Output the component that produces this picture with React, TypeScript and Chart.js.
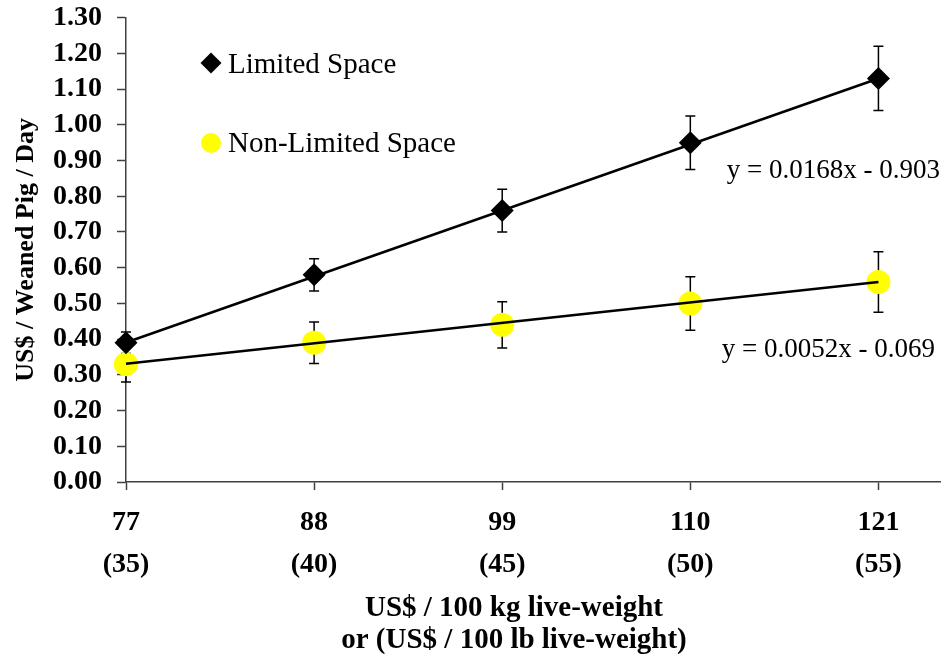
import React, { useEffect, useRef } from 'react';
import { Chart, registerables } from 'chart.js';

Chart.register(...registerables);

// ---- data ----
const priceKg = [77, 88, 99, 110, 121];
const priceLb = ['(35)', '(40)', '(45)', '(50)', '(55)'];
const limitedSpace = [0.39, 0.58, 0.76, 0.95, 1.13];
const limitedSpaceErr = [0.03, 0.045, 0.06, 0.075, 0.09];
const nonLimitedSpace = [0.33, 0.39, 0.44, 0.5, 0.56];
const nonLimitedSpaceErr = [0.05, 0.058, 0.065, 0.075, 0.085];
const limitedFit = { slope: 0.0168, intercept: -0.903 };
const nonLimitedFit = { slope: 0.0052, intercept: -0.069 };
const yTickValues = [0, 0.1, 0.2, 0.3, 0.4, 0.5, 0.6, 0.7, 0.8, 0.9, 1.0, 1.1, 1.2, 1.3];
const seriesNames = ['Limited Space', 'Non-Limited Space'];
const xTitle = ['US$ / 100 kg live-weight', 'or (US$ / 100 lb live-weight)'];
const yTitle = 'US$ / Weaned Pig / Day';

const SERIF = '"Liberation Serif", "Times New Roman", serif';
const AXIS = '#404040';
const YELLOW = '#FFFF00';

const eqText = (f: { slope: number; intercept: number }) =>
  `y = ${f.slope}x ${f.intercept < 0 ? '-' : '+'} ${Math.abs(f.intercept).toFixed(3)}`;

const fitLine = (f: { slope: number; intercept: number }) => {
  const x0 = priceKg[0];
  const x1 = priceKg[priceKg.length - 1];
  return [
    { x: x0, y: f.slope * x0 + f.intercept },
    { x: x1, y: f.slope * x1 + f.intercept },
  ];
};

const errorBarPlugin = {
  id: 'errorBars',
  beforeDatasetsDraw(chart: any) {
    const { ctx } = chart;
    const xs = chart.scales.x;
    const ys = chart.scales.y;
    ctx.save();
    ctx.strokeStyle = '#000';
    ctx.lineWidth = 1.5;
    chart.data.datasets.forEach((ds: any) => {
      const errs = ds.errors;
      if (!errs) return;
      ds.data.forEach((pt: any, j: number) => {
        const px = xs.getPixelForValue(pt.x);
        const top = ys.getPixelForValue(pt.y + errs[j]);
        const bot = ys.getPixelForValue(pt.y - errs[j]);
        ctx.beginPath();
        ctx.moveTo(px, top);
        ctx.lineTo(px, bot);
        ctx.moveTo(px - 5, top);
        ctx.lineTo(px + 5, top);
        ctx.moveTo(px - 5, bot);
        ctx.lineTo(px + 5, bot);
        ctx.stroke();
      });
    });
    ctx.restore();
  },
};

const annotationPlugin = {
  id: 'annotations',
  afterDraw(chart: any) {
    const { ctx } = chart;
    ctx.save();
    // legend
    const lx = 211;
    ctx.fillStyle = '#000';
    ctx.beginPath();
    ctx.moveTo(lx - 10.5, 63);
    ctx.lineTo(lx, 52.5);
    ctx.lineTo(lx + 10.5, 63);
    ctx.lineTo(lx, 73.5);
    ctx.closePath();
    ctx.fill();
    ctx.fillStyle = YELLOW;
    ctx.beginPath();
    ctx.arc(lx, 143, 10, 0, Math.PI * 2);
    ctx.fill();
    ctx.fillStyle = '#000';
    ctx.font = `29px ${SERIF}`;
    ctx.textAlign = 'left';
    ctx.textBaseline = 'alphabetic';
    ctx.fillText(seriesNames[0], 228, 73);
    ctx.fillText(seriesNames[1], 228, 152);

    // trend equations
    ctx.font = `27px ${SERIF}`;
    ctx.textAlign = 'right';
    ctx.fillText(eqText(limitedFit), 940, 178);
    ctx.fillText(eqText(nonLimitedFit), 935, 357);

    // x title
    ctx.font = `bold 29px ${SERIF}`;
    ctx.textAlign = 'center';
    ctx.textBaseline = 'middle';
    const cx = 514;
    ctx.fillText(xTitle[0], cx, 609);
    ctx.fillText(xTitle[1], cx, 641);
    ctx.restore();
  },
};

export default function App() {
  const ref = useRef<HTMLCanvasElement | null>(null);

  useEffect(() => {
    if (!ref.current) return;
    const chart = new Chart(ref.current, {
      type: 'line',
      data: {
        datasets: [
          {
            label: 'Limited Space trend',
            data: fitLine(limitedFit),
            borderColor: '#000',
            borderWidth: 2.5,
            pointRadius: 0,
            fill: false,
            order: 0,
            clip: false,
          } as any,
          {
            label: 'Non-Limited Space trend',
            data: fitLine(nonLimitedFit),
            borderColor: '#000',
            borderWidth: 2.5,
            pointRadius: 0,
            fill: false,
            order: 0,
            clip: false,
          } as any,
          {
            label: seriesNames[0],
            data: priceKg.map((x, i) => ({ x, y: limitedSpace[i] })),
            errors: limitedSpaceErr,
            showLine: false,
            pointStyle: 'rectRot',
            pointRadius: 11.5,
            pointBackgroundColor: '#000',
            pointBorderColor: '#000',
            pointBorderWidth: 0,
            order: 1,
            clip: false,
          } as any,
          {
            label: seriesNames[1],
            data: priceKg.map((x, i) => ({ x, y: nonLimitedSpace[i] })),
            errors: nonLimitedSpaceErr,
            showLine: false,
            pointStyle: 'circle',
            pointRadius: 12,
            pointBackgroundColor: YELLOW,
            pointBorderColor: YELLOW,
            pointBorderWidth: 0,
            order: 1,
            clip: false,
          } as any,
        ],
      },
      options: {
        animation: false,
        responsive: false,
        layout: { autoPadding: false, padding: { top: 17.7, right: 3, left: 0, bottom: 0 } },
        plugins: {
          legend: { display: false },
          tooltip: { enabled: false },
        },
        scales: {
          x: {
            type: 'linear',
            min: 77,
            max: 124.6,
            afterBuildTicks: (scale: any) => {
              scale.ticks = priceKg.map((v) => ({ value: v }));
            },
            afterFit: (scale: any) => {
              scale.height = 181;
              scale.paddingLeft = 0;
              scale.paddingRight = 0;
            },
            grid: {
              drawOnChartArea: false,
              drawTicks: true,
              tickLength: 8,
              tickColor: AXIS,
              tickWidth: 1.5,
            },
            border: { color: AXIS, width: 1.5 },
            ticks: {
              color: '#000',
              padding: 12,
              maxRotation: 0,
              autoSkip: false,
              font: { family: SERIF, size: 28, weight: 'bold', lineHeight: 1.5 },
              callback: (_v: any, i: number) => [String(priceKg[i]), priceLb[i]],
            },
          },
          y: {
            type: 'linear',
            min: 0,
            max: 1.3,
            afterBuildTicks: (scale: any) => {
              scale.ticks = yTickValues.map((v) => ({ value: v }));
            },
            afterFit: (scale: any) => {
              scale.width = 126;
              scale.paddingTop = 0;
              scale.paddingBottom = 0;
            },
            grid: {
              drawOnChartArea: false,
              drawTicks: true,
              tickLength: 9,
              tickColor: AXIS,
              tickWidth: 1.5,
            },
            border: { color: AXIS, width: 1.5 },
            ticks: {
              color: '#000',
              padding: 15,
              autoSkip: false,
              font: { family: SERIF, size: 28, weight: 'bold' },
              callback: (v: any) => Number(v).toFixed(2),
            },
            title: {
              display: true,
              text: yTitle,
              color: '#000',
              padding: { top: 11, bottom: 0 },
              font: { family: SERIF, size: 26, weight: 'bold', lineHeight: 1.2 },
            },
          },
        },
      },
      plugins: [errorBarPlugin, annotationPlugin],
    } as any);
    return () => chart.destroy();
  }, []);

  return (
    <div style={{ position: 'absolute', left: 0, top: 0, width: 943, height: 663, background: '#fff' }}>
      <canvas ref={ref} width={943} height={663} style={{ display: 'block', width: 943, height: 663 }} />
    </div>
  );
}
